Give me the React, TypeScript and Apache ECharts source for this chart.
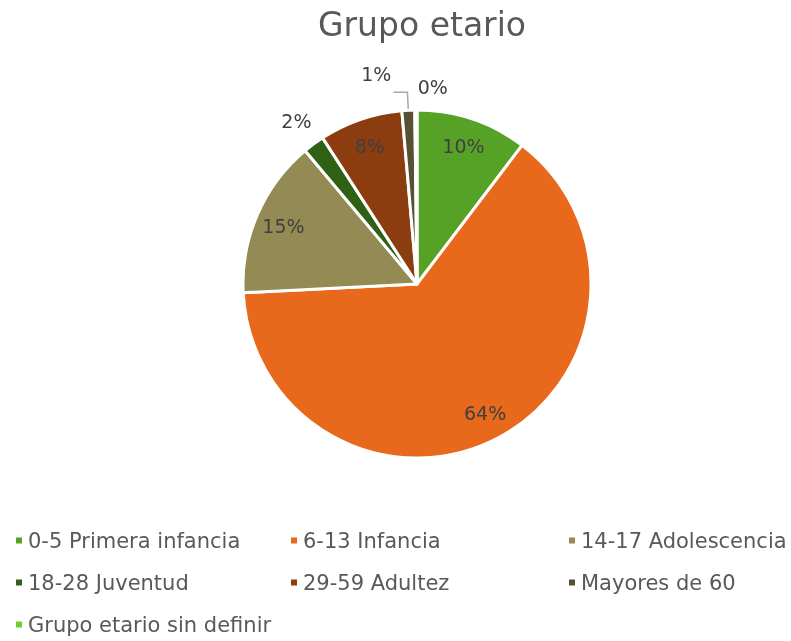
import React, { useEffect, useRef } from "react";
import * as echarts from "echarts";

const categories = [
  "0-5 Primera infancia",
  "6-13 Infancia",
  "14-17 Adolescencia",
  "18-28 Juventud",
  "29-59 Adultez",
  "Mayores de 60",
  "Grupo etario sin definir",
];
const values = [52, 322, 74, 10, 39, 6, 1];
const colors = ["#56A227", "#E8681C", "#948A54", "#2F6114", "#8B3D10", "#594F32", "#6ECF2E"];
const innerLabelIdx = [0, 1, 2, 4];
const outerLabelIdx = [3, 6];
const leaderLabelIdx = [5];
const legendCols = [
  ["0-5 Primera infancia", "18-28 Juventud", "Grupo etario sin definir"],
  ["6-13 Infancia", "29-59 Adultez"],
  ["14-17 Adolescencia", "Mayores de 60"],
];

const FONT = "'DejaVu Sans', sans-serif";
const R = 174;

export default function App() {
  const ref = useRef<HTMLDivElement>(null);
  useEffect(() => {
    if (!ref.current) return;
    const chart = echarts.init(ref.current, null, { renderer: "svg" });
    const total = values.reduce((a, b) => a + b, 0);
    const pct = (v: number) => Math.round((v / total) * 100) + "%";
    const labelStyle = {
      formatter: (p: any) => pct(p.value),
      fontFamily: FONT,
      fontSize: 19,
      color: "#404040",
    };
    const mainData = categories.map((name, i) => ({
      name,
      value: values[i],
      itemStyle: { color: colors[i] },
      label: { show: leaderLabelIdx.includes(i) },
      labelLine: { show: leaderLabelIdx.includes(i) },
    }));
    const overlay = (idx: number[]) =>
      categories.map((name, i) => ({
        name,
        value: values[i],
        itemStyle: { color: "rgba(0,0,0,0)", borderWidth: 0 },
        label: { show: idx.includes(i) },
      }));
    chart.setOption({
      animation: false,
      color: colors,
      title: {
        text: "Grupo etario",
        left: 417,
        textAlign: "center",
        top: 3,
        textStyle: { fontFamily: FONT, fontSize: 33, fontWeight: "normal", color: "#595959" },
      },
      legend: legendCols.map((col, ci) => ({
        data: col,
        orient: "vertical",
        left: [14, 289, 567][ci],
        top: 530,
        height: 140,
        padding: 0,
        itemWidth: 8,
        itemHeight: 8,
        itemGap: 21,
        icon: "rect",
        selectedMode: false,
        textStyle: { fontFamily: FONT, fontSize: 21, color: "#595959" },
      })),
      series: [
        {
          type: "pie",
          center: [417, 284],
          radius: [0, R],
          startAngle: 90,
          clockwise: true,
          data: mainData,
          itemStyle: { borderColor: "#ffffff", borderWidth: 3 },
          label: { position: "outside", ...labelStyle },
          labelLine: { length: 18, length2: 14, lineStyle: { color: "#A6A6A6", width: 1.5 } },
          labelLayout: (p: any) => (p.dataIndex === 5 ? { dx: 3, dy: -18 } : {}),
          emphasis: { disabled: true },
        },
        {
          type: "pie",
          center: [417, 284],
          radius: [R * 0.64, R],
          startAngle: 90,
          clockwise: true,
          silent: true,
          data: overlay(innerLabelIdx),
          label: { position: "inside", ...labelStyle },
          labelLine: { show: false },
          emphasis: { disabled: true },
        },
        {
          type: "pie",
          center: [417, 284],
          radius: [R, R * 1.3],
          startAngle: 90,
          clockwise: true,
          silent: true,
          data: overlay(outerLabelIdx),
          label: { position: "inside", ...labelStyle },
          labelLine: { show: false },
          labelLayout: (p: any) => (p.dataIndex === 6 ? { dx: 17, dy: 6 } : {}),
          emphasis: { disabled: true },
        },
      ],
    });
    return () => chart.dispose();
  }, []);
  return <div ref={ref} style={{ position: "fixed", left: 0, top: 0, width: 791, height: 641 }} />;
}
